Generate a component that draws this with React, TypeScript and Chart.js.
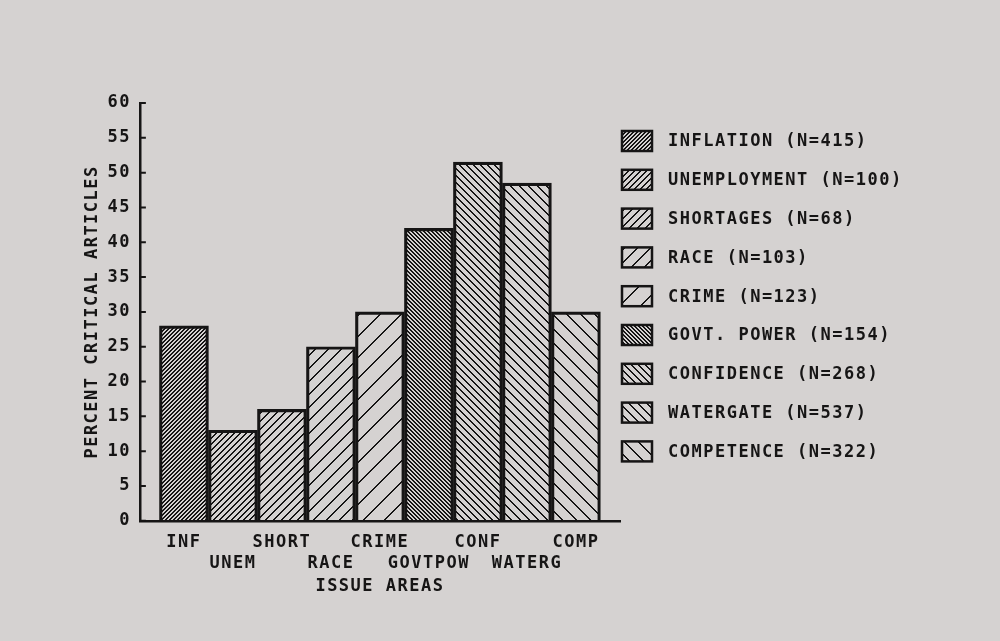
import React, { useEffect, useRef } from 'react';
import { Chart, registerables } from 'chart.js';

Chart.register(...registerables);

// ---- data ----
const categories = ['INF', 'UNEM', 'SHORT', 'RACE', 'CRIME', 'GOVTPOW', 'CONF', 'WATERG', 'COMP'];
const percentCritical = [28, 13, 16, 25, 30, 42, 51.5, 48.5, 30];
const legendLabels = [
  'INFLATION (N=415)',
  'UNEMPLOYMENT (N=100)',
  'SHORTAGES (N=68)',
  'RACE (N=103)',
  'CRIME (N=123)',
  'GOVT. POWER (N=154)',
  'CONFIDENCE (N=268)',
  'WATERGATE (N=537)',
  'COMPETENCE (N=322)',
];
const yTickValues = [0, 5, 10, 15, 20, 25, 30, 35, 40, 45, 50, 55, 60];

// ---- styles ----
const hatchForward = [true, true, true, true, true, false, false, false, false];
const hatchSize = [4, 6, 8, 13, 21, 4, 7, 9, 14];
const INK = '#161515';
const BG = '#d5d2d1';
const FAMILY = '"DejaVu Sans Mono", monospace';
const FONT = { family: FAMILY, size: 17, weight: 'bold' as const, lineHeight: 1.2 };

function makeHatch(size: number, forward: boolean): CanvasPattern {
  const c = document.createElement('canvas');
  c.width = size;
  c.height = size;
  const g = c.getContext('2d')!;
  const img = g.createImageData(size, size);
  const lw = 2;
  for (let y = 0; y < size; y++) {
    for (let x = 0; x < size; x++) {
      const t = forward ? (x + y) % size : (((x - y) % size) + size) % size;
      if (t < lw) {
        const o = (y * size + x) * 4;
        img.data[o] = 0x16;
        img.data[o + 1] = 0x15;
        img.data[o + 2] = 0x15;
        img.data[o + 3] = 255;
      }
    }
  }
  g.putImageData(img, 0, 0);
  return g.createPattern(c, 'repeat')!;
}

export default function App() {
  const ref = useRef<HTMLCanvasElement | null>(null);

  useEffect(() => {
    if (!ref.current) return;
    const patterns = hatchSize.map((s, i) => makeHatch(s, hatchForward[i]));

    const spacingPlugin = {
      id: 'spacing',
      beforeUpdate(chart: any) {
        chart.ctx.letterSpacing = '1.5px';
      },
      beforeDraw(chart: any) {
        chart.ctx.letterSpacing = '1.5px';
      },
    };

    const innerTicks = {
      id: 'innerTicks',
      afterDraw(chart: any) {
        const ctx = chart.ctx;
        const y = chart.scales.y;
        const left = chart.chartArea.left;
        ctx.save();
        ctx.strokeStyle = INK;
        ctx.lineWidth = 2;
        ctx.beginPath();
        yTickValues.forEach((v) => {
          const py = y.getPixelForValue(v);
          ctx.moveTo(left, py);
          ctx.lineTo(left + 6, py);
        });
        ctx.stroke();
        ctx.restore();
      },
    };

    const hatchLegend = {
      id: 'hatchLegend',
      afterDraw(chart: any) {
        const ctx = chart.ctx;
        const x0 = chart.chartArea.right + 2;
        ctx.save();
        ctx.font = `bold ${FONT.size}px ${FAMILY}`;
        ctx.letterSpacing = '1.5px';
        ctx.textBaseline = 'middle';
        ctx.textAlign = 'left';
        legendLabels.forEach((label, i) => {
          const cy = 141 + i * 38.8;
          ctx.fillStyle = patterns[i];
          ctx.fillRect(x0, cy - 10, 30, 20);
          ctx.strokeStyle = INK;
          ctx.lineWidth = 2.5;
          ctx.strokeRect(x0, cy - 10, 30, 20);
          ctx.fillStyle = INK;
          ctx.fillText(label, x0 + 46, cy + 1);
        });
        ctx.restore();
      },
    };

    const chart = new Chart(ref.current, {
      type: 'bar',
      data: {
        datasets: [
          {
            data: categories.map((_, i) => ({ x: i, y: percentCritical[i] })) as any,
            backgroundColor: patterns as any,
            borderColor: INK,
            borderWidth: 2.5,
            barPercentage: 1,
            categoryPercentage: 1,
          },
        ],
      },
      options: {
        responsive: false,
        animation: false,
        devicePixelRatio: 1,
        layout: { padding: { left: 82, right: 380, top: 103, bottom: 44 } },
        plugins: {
          legend: { display: false },
          tooltip: { enabled: false },
        },
        scales: {
          x: {
            type: 'linear',
            min: -0.9,
            max: 8.9,
            offset: false,
            z: 1,
            grid: { display: false, drawTicks: false },
            border: { display: true, color: INK, width: 2.5 },
            afterBuildTicks: (s: any) => {
              s.ticks = categories.map((_, i) => ({ value: i }));
            },
            ticks: {
              autoSkip: false,
              maxRotation: 0,
              minRotation: 0,
              padding: 12,
              color: INK,
              font: FONT,
              callback: (v: any) => {
                const i = Math.round(Number(v));
                const name = categories[i] ?? '';
                return i % 2 === 0 ? name : ['', name];
              },
            },
            title: {
              display: true,
              text: 'ISSUE AREAS',
              color: INK,
              font: FONT,
              padding: { top: -9, bottom: 0 },
            },
          },
          y: {
            min: 0,
            max: 60,
            z: 1,
            grid: { display: false, drawTicks: false },
            border: { display: true, color: INK, width: 2.5 },
            afterBuildTicks: (s: any) => {
              s.ticks = yTickValues.map((v) => ({ value: v }));
            },
            ticks: {
              padding: 9,
              color: INK,
              font: FONT,
            },
            title: {
              display: true,
              text: 'PERCENT CRITICAL ARTICLES',
              color: INK,
              font: FONT,
              padding: { top: 0, bottom: -4 },
            },
          },
        },
      },
      plugins: [spacingPlugin, innerTicks, hatchLegend],
    });
    return () => chart.destroy();
  }, []);

  return (
    <div style={{ position: 'absolute', left: 0, top: 0, width: 1000, height: 641, background: BG }}>
      <canvas ref={ref} width={1000} height={641} style={{ display: 'block' }} />
    </div>
  );
}
